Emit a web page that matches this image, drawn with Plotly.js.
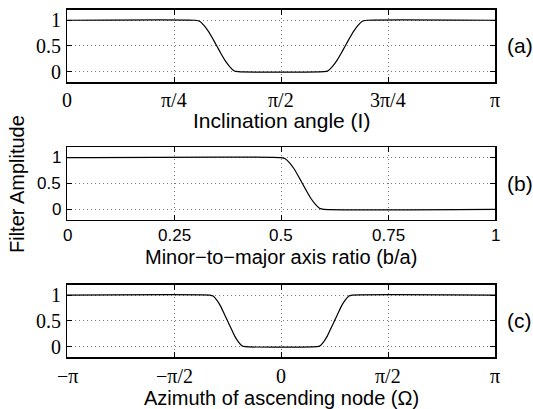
<!DOCTYPE html>
<html>
<head>
<meta charset="utf-8">
<script src="https://cdn.plot.ly/plotly-3.0.1.min.js"></script>
<style>html,body{margin:0;padding:0;background:#fff;}</style>
</head>
<body>
<div id="chart" style="width:533px;height:409px;"></div>
<script>
// Filter (a): inclination angle, in units of pi
const inclX = [0, 0.30, 0.31, 0.32, 0.33, 0.34, 0.35, 0.36, 0.37, 0.38, 0.39, 0.40,
               0.60, 0.61, 0.62, 0.63, 0.64, 0.65, 0.66, 0.67, 0.68, 0.69, 0.70, 1];
const inclY = [1, 1, 0.98, 0.90, 0.79, 0.65, 0.50, 0.35, 0.21, 0.10, 0.02, 0,
               0, 0.02, 0.10, 0.21, 0.35, 0.50, 0.65, 0.79, 0.90, 0.98, 1, 1];

// Filter (b): minor-to-major axis ratio
const ratioX = [0, 0.50, 0.51, 0.52, 0.53, 0.54, 0.55, 0.56, 0.57, 0.58, 0.59, 0.60, 1];
const ratioY = [1, 1, 0.98, 0.90, 0.79, 0.65, 0.50, 0.35, 0.21, 0.10, 0.02, 0, 0];

// Filter (c): azimuth of ascending node, in units of pi
const azX = [-1, -0.333, -0.317, -0.300, -0.283, -0.267, -0.250, -0.233, -0.217, -0.200, -0.183, -0.167,
             0.167, 0.183, 0.200, 0.217, 0.233, 0.250, 0.267, 0.283, 0.300, 0.317, 0.333, 1];
const azY = [1, 1, 0.98, 0.90, 0.79, 0.65, 0.50, 0.35, 0.21, 0.10, 0.02, 0,
             0, 0.02, 0.10, 0.21, 0.35, 0.50, 0.65, 0.79, 0.90, 0.98, 1, 1];

// Tick positions and labels
const inclTickVals = [0, 0.25, 0.5, 0.75, 1];
const inclTickText = ['0', 'π/4', 'π/2', '3π/4', 'π'];
const ratioTickVals = [0, 0.25, 0.5, 0.75, 1];
const ratioTickText = ['0', '0.25', '0.5', '0.75', '1'];
const azTickVals = [-1, -0.5, 0, 0.5, 1];
const azTickText = ['−π', '−π/2', '0', 'π/2', 'π'];
const ampTickVals = [0, 0.5, 1];
const ampTickText = ['0', '0.5', '1'];

const xTitles = ['Inclination angle (I)', 'Minor−to−major axis ratio (b/a)', 'Azimuth of ascending node (Ω)'];
const panelTags = ['(a)', '(b)', '(c)'];

const PI = Math.PI;
const SERIF = 'Liberation Serif';
const SANS = 'Liberation Sans';

const lineStyle = {color: '#000', width: 1.2, shape: 'spline', smoothing: 0.5};

const traces = [
  {x: inclX.map(v => v * PI), y: inclY, xaxis: 'x', yaxis: 'y', mode: 'lines', line: lineStyle, hoverinfo: 'skip'},
  {x: ratioX, y: ratioY, xaxis: 'x2', yaxis: 'y2', mode: 'lines', line: lineStyle, hoverinfo: 'skip'},
  {x: azX.map(v => v * PI), y: azY, xaxis: 'x3', yaxis: 'y3', mode: 'lines', line: lineStyle, hoverinfo: 'skip'}
];

// Boxed axes with inward ticks on all four sides and a fine dotted grid
function frameAxis(extra) {
  return Object.assign({
    showline: true, linecolor: '#000', linewidth: 1.5, mirror: 'ticks',
    ticks: 'inside', ticklen: 5, tickwidth: 1, tickcolor: '#000',
    showgrid: true, gridcolor: '#7a7a7a', griddash: '1px,3px', gridwidth: 1,
    zeroline: false, fixedrange: true, showticklabels: false, tickmode: 'array'
  }, extra);
}

const domains = [[0.7995, 0.9756], [0.4628, 0.6399], [0.1271, 0.3039]];

const layout = {
  width: 533, height: 409,
  margin: {l: 67, r: 38, t: 0, b: 0},
  paper_bgcolor: '#fff', plot_bgcolor: '#fff',
  showlegend: false,
  xaxis: frameAxis({domain: [0, 1], anchor: 'y', range: [0, PI], tickvals: inclTickVals.map(v => v * PI)}),
  yaxis: frameAxis({domain: domains[0], anchor: 'x', range: [-0.2, 1.2], tickvals: ampTickVals}),
  xaxis2: frameAxis({domain: [0, 1], anchor: 'y2', range: [0, 1], tickvals: ratioTickVals}),
  yaxis2: frameAxis({domain: domains[1], anchor: 'x2', range: [-0.2, 1.2], tickvals: ampTickVals}),
  xaxis3: frameAxis({domain: [0, 1], anchor: 'y3', range: [-PI, PI], tickvals: azTickVals.map(v => v * PI)}),
  yaxis3: frameAxis({domain: domains[2], anchor: 'x3', range: [-0.2, 1.2], tickvals: ampTickVals}),
  annotations: []
};

// Tick labels, placed on each axis' own scale
const panels = [
  {xa: 'x', ya: 'y', vals: inclTickVals.map(v => v * PI), text: inclTickText, font: {family: SERIF, size: 20}, labelY: 0.7555},
  {xa: 'x2', ya: 'y2', vals: ratioTickVals, text: ratioTickText, font: {family: SANS, size: 17}, labelY: 0.4254},
  {xa: 'x3', ya: 'y3', vals: azTickVals.map(v => v * PI), text: azTickText, font: {family: SERIF, size: 20}, labelY: 0.0807}
];
panels.forEach(p => {
  const f = Object.assign({color: '#000'}, p.font);
  p.vals.forEach((v, i) => {
    layout.annotations.push({text: p.text[i], xref: p.xa, yref: 'paper', x: v, y: p.labelY,
      xanchor: 'center', yanchor: 'middle', showarrow: false, font: f});
  });
  ampTickVals.forEach((v, i) => {
    layout.annotations.push({text: ampTickText[i], xref: 'paper', yref: p.ya, x: -0.0093, y: v,
      xanchor: 'right', yanchor: 'middle', showarrow: false, font: f});
  });
});

// Axis titles below each panel
const titleY = [0.7066, 0.3717, 0.0270];
xTitles.forEach((t, i) => {
  layout.annotations.push({
    text: t, xref: 'paper', yref: 'paper', x: 0.5, y: titleY[i],
    xanchor: 'center', yanchor: 'middle', showarrow: false,
    font: {family: SANS, size: i === 0 ? 21 : 20, color: '#000'}
  });
});

// Panel tags on the right, level with 0.5
['y', 'y2', 'y3'].forEach((ax, i) => {
  layout.annotations.push({
    text: panelTags[i], xref: 'paper', yref: ax, x: 1.058, y: 0.5,
    xanchor: 'center', yanchor: 'middle', showarrow: false,
    font: {family: SANS, size: 21, color: '#000'}
  });
});

// Shared y label
layout.annotations.push({
  text: 'Filter Amplitude', xref: 'paper', yref: 'paper', x: -0.118, y: 0.5513,
  xanchor: 'center', yanchor: 'middle', textangle: -90, showarrow: false,
  font: {family: SANS, size: 20, color: '#000'}
});

Plotly.newPlot('chart', traces, layout, {displayModeBar: false, staticPlot: true});
</script>
</body>
</html>
